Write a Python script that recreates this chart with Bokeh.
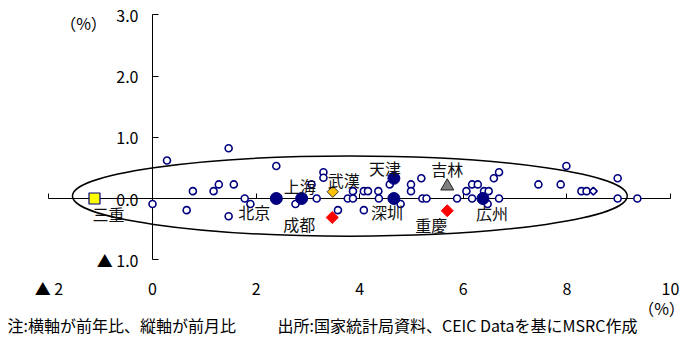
import numpy as np
from bokeh.plotting import figure
from bokeh.models import Range1d, LinearAxis, FixedTicker, ColumnDataSource
from bokeh.core.properties import value
from bokeh.embed import file_html
from bokeh.resources import INLINE

FONT = "Noto Sans CJK JP"
NAVY = "#000080"

# ---- data: other cities (hollow circles): x = YoY %, y = MoM %
other_x = [0.28, 1.47, 0.78, 1.18, 1.28, 1.57, 0.00, 0.66, 1.47, 2.39,
           1.78, 1.89, 2.76, 3.07, 3.17, 3.30, 3.30, 3.58, 3.77, 3.87,
           3.87, 4.08, 4.16, 4.08, 4.36, 4.37, 4.58, 4.99, 4.99, 5.19,
           5.21, 5.29, 4.79, 5.88, 6.06, 6.17, 6.28, 6.17, 6.40, 6.49,
           6.47, 6.59, 6.69, 6.69, 7.45, 7.88, 7.99, 8.28, 8.38, 8.98,
           8.98, 9.36]
other_y = [0.62, 0.82, 0.12, 0.12, 0.23, 0.23, -0.09, -0.19, -0.29, 0.53,
           0.0, -0.09, -0.09, 0.23, 0.0, 0.43, 0.34, -0.19, 0.0, 0.0,
           0.12, 0.12, 0.12, -0.19, 0.12, 0.0, 0.23, 0.23, 0.12, 0.33,
           0.0, 0.0, -0.09, 0.0, 0.12, 0.23, 0.23, 0.0, 0.12, 0.12,
           -0.09, 0.33, 0.43, 0.0, 0.23, 0.23, 0.53, 0.12, 0.12, 0.33,
           0.0, 0.0]
# hollow diamond point
odd_x = [8.51]
odd_y = [0.12]

# major cities (filled navy circles)
major_names = ["北京", "上海", "天津", "深圳", "広州"]
major_x = [2.39, 2.88, 4.66, 4.66, 6.38]
major_y = [0.0, 0.0, 0.33, 0.0, 0.0]

# red diamonds
red_names = ["成都", "重慶"]
red_x = [3.47, 5.69]
red_y = [-0.31, -0.20]

# gold diamond
gold_names = ["武漢"]
gold_x = [3.48]
gold_y = [0.11]

# gray triangle
tri_names = ["吉林"]
tri_x = [5.69]
tri_y = [0.20]

# yellow square
sq_names = ["三重"]
sq_x = [-1.12]
sq_y = [0.0]

x_ticks = [-2, 0, 2, 4, 6, 8, 10]
x_tick_labels = ["▲ 2", "0", "2", "4", "6", "8", "10"]
y_ticks = [-1, 0, 1, 2, 3]
y_tick_labels = ["▲ 1.0", "0.0", "1.0", "2.0", "3.0"]

# ---- layout helpers (pixel scale of the reference)
PX_X = 51.8   # px per unit x
PX_Y = 61.2   # px per unit y
X0 = 152      # canvas px of x=0
Y0 = 198      # canvas px of y=0
W, H = 684, 340


def dx(px):
    return (px - X0) / PX_X


def dy(py):
    return (Y0 - py) / PX_Y


p = figure(width=W, height=H,
           x_range=Range1d(dx(0), dx(W)), y_range=Range1d(dy(H), dy(0)),
           output_backend="svg", toolbar_location=None,
           x_axis_location=None, y_axis_location=None,
           min_border=0, outline_line_color=None,
           background_fill_color="white", border_fill_color="white")
p.grid.visible = False

common = dict(major_label_text_font=FONT, major_label_text_color="black",
              minor_tick_in=0, minor_tick_out=0, minor_tick_line_color=None)

yax = LinearAxis(fixed_location=0, bounds=(-1, 3),
                 ticker=FixedTicker(ticks=y_ticks, minor_ticks=[]),
                 major_label_overrides=dict(zip(y_ticks, y_tick_labels)),
                 major_tick_in=6, major_tick_out=0,
                 axis_line_color="black", axis_line_width=1,
                 major_tick_line_color="black", major_tick_line_width=1,
                 major_label_standoff=14, major_label_text_font_size="16px",
                 **common)
yax.level = "underlay"
p.add_layout(yax, "left")

# x axis crossing at y=0; its labels sit at the bottom of the chart
xax = LinearAxis(fixed_location=0, bounds=(-2, 10),
                 ticker=FixedTicker(ticks=x_ticks, minor_ticks=[]),
                 major_label_overrides=dict(zip(x_ticks, x_tick_labels)),
                 major_tick_in=5, major_tick_out=0,
                 axis_line_color="black", axis_line_width=1,
                 major_tick_line_color="black", major_tick_line_width=1,
                 major_label_standoff=77, major_label_text_font_size="16px",
                 **common)
xax.level = "underlay"
p.add_layout(xax, "below")

# ellipse outlining the cluster
p.ellipse(x=3.81, y=0.04, width=10.71, height=1.31,
          fill_color=None, line_color="black", line_width=1.5)

# markers
p.scatter(other_x, other_y, marker="circle", size=7,
          fill_color="white", line_color=NAVY, line_width=1.6)
p.scatter(odd_x, odd_y, marker="square", angle=np.pi / 4, size=5.5,
          fill_color="white", line_color=NAVY, line_width=1.6)
p.scatter(major_x, major_y, marker="circle", size=12,
          fill_color=NAVY, line_color=NAVY, line_width=1)
p.scatter(red_x, red_y, marker="square", angle=np.pi / 4, size=8.5,
          fill_color="#FF0000", line_color="#FF0000", line_width=1)
p.scatter(gold_x, gold_y, marker="square", angle=np.pi / 4, size=8,
          fill_color="#FFC000", line_color="#333333", line_width=1)
p.scatter(tri_x, tri_y, marker="triangle", size=13,
          fill_color="#808080", line_color="#222222", line_width=1)
p.scatter(sq_x, sq_y, marker="square", size=11,
          fill_color="#FFFF00", line_color=NAVY, line_width=1.2)

# city labels: offsets (px) from their point
label_offsets = {
    "北京": (-22, 13), "上海": (-2, -13), "天津": (-9, -10), "深圳": (-7, 13),
    "広州": (9, 14), "成都": (-33, 7), "重慶": (-16, 14), "武漢": (11, -12),
    "吉林": (0, -17), "三重": (14, 15),
}
names = major_names + red_names + gold_names + tri_names + sq_names
lx = major_x + red_x + gold_x + tri_x + sq_x
ly = major_y + red_y + gold_y + tri_y + sq_y
lab_src = ColumnDataSource(dict(
    x=lx, y=ly, text=names,
    xo=[label_offsets[n][0] for n in names],
    yo=[label_offsets[n][1] for n in names]))
p.text(x="x", y="y", text="text", x_offset="xo", y_offset="yo", source=lab_src,
       text_font=value(FONT), text_font_size="16px", text_color="#111111",
       text_align="center", text_baseline="middle")

# unit labels and notes
p.text(x=[dx(83)], y=[dy(22.5)], text=["（%）"],
       text_font=value(FONT), text_font_size="16px", text_color="black",
       text_align="center", text_baseline="middle")
p.text(x=[dx(661)], y=[dy(307)], text=["（%）"],
       text_font=value(FONT), text_font_size="16px", text_color="black",
       text_align="center", text_baseline="middle")
p.text(x=[dx(7), dx(277)], y=[dy(324.5)] * 2,
       text=["注:横軸が前年比、縦軸が前月比",
             "出所:国家統計局資料、CEIC Dataを基にMSRC作成"],
       text_font=value(FONT), text_font_size="16px", text_color="black",
       text_align="left", text_baseline="middle")

open("out.html", "w").write(file_html(p, INLINE))
